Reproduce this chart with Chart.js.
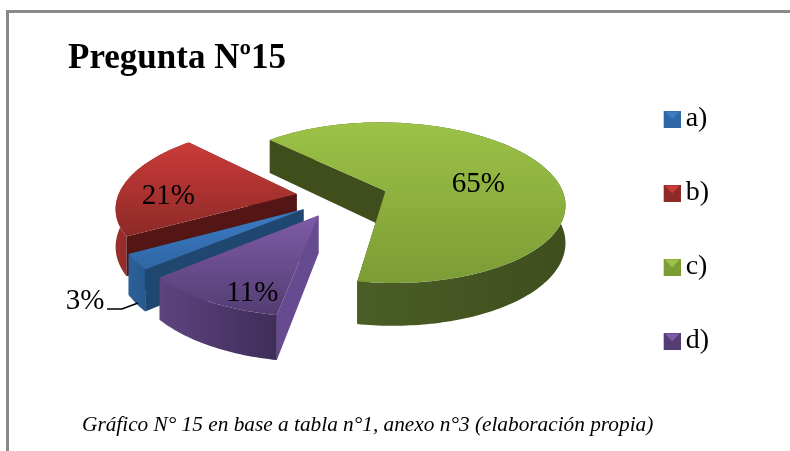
<!DOCTYPE html>
<html><head><meta charset="utf-8">
<style>html,body{margin:0;padding:0;background:#fff}canvas{display:block;filter:blur(0.4px)}</style>
<script src="https://cdn.jsdelivr.net/npm/chart.js@4"></script>
</head><body><canvas id="c" width="790" height="451"></canvas>
<script>
const categories = ['a)', 'b)', 'c)', 'd)'];
const values = [3, 21, 65, 11];
const titleText = 'Pregunta Nº15';
const captionText = 'Gráfico N° 15 en base a tabla n°1, anexo n°3 (elaboración propia)';
const baseColors = ['#3A78BE', '#C0392F', '#9BBB45', '#7650A0'];
const topLight = ['#3C7CC4', '#CB3B38', '#9CC247', '#7E5BA8'];
const topDark = ['#2F66A5', '#8C2A28', '#7C9C35', '#533D72'];
const wallStart = ['#1F4770', '#531615', '#3F4E1B', '#664B91'];
const wallEnd = ['#1F4770', '#531615', '#3F4E1B', '#5A4080'];
const outerLeft = ['#2C6299', '#9A2E2B', '#50642A', '#5E4480'];
const outerRight = ['#27588C', '#7A2422', '#3F4E1D', '#3F2D58'];
const labelFrac = [1.25, 0.62, 0.55, 0.62];
const labelNudgeX = [-4, -21, 3, -2];
const labelNudgeY = [25, 9, 6, 27];

const O = {x: 342, y: 197}, RX = 179, KY = 0.449, P = 0.147, DEPTH = 37;
const serif = '"Liberation Serif", "Times New Roman", serif';
function proj(u, v, z) {
  const w = 1 - P * v;
  return {x: O.x + RX * u / w, y: O.y + (RX * KY * v + DEPTH * z) / w};
}
function poly(ctx, pts, fill) {
  ctx.beginPath();
  pts.forEach((p, i) => i ? ctx.lineTo(p.x, p.y) : ctx.moveTo(p.x, p.y));
  ctx.closePath();
  ctx.fillStyle = fill;
  ctx.fill();
}
function sliceGeom(el) {
  const s = el.startAngle, e = el.endAngle, mid = (s + e) / 2;
  const ex = el.options.offset / el.outerRadius;
  const ox = ex * Math.cos(mid), oy = ex * Math.sin(mid);
  const ring = [];
  const n = Math.max(4, Math.ceil((e - s) / 0.02));
  for (let i = 0; i <= n; i++) {
    const t = s + (e - s) * i / n;
    ring.push([ox + Math.cos(t), oy + Math.sin(t)]);
  }
  return {ox, oy, ring, mid};
}
function swatch(light, dark) {
  const c = document.createElement('canvas');
  c.width = 35; c.height = 17;
  const g = c.getContext('2d');
  g.fillStyle = dark; g.fillRect(18, 0, 17, 17);
  g.fillStyle = light;
  g.beginPath(); g.moveTo(19, 1); g.lineTo(34, 1); g.lineTo(26.5, 9); g.closePath(); g.fill();
  return c;
}
const pie3d = {
  id: 'pie3d',
  beforeDraw(chart) {
    const ctx = chart.ctx;
    ctx.save();
    ctx.fillStyle = '#8a8a8a';
    ctx.fillRect(6, 10, 784, 3);
    ctx.fillRect(6, 10, 3, 441);
    ctx.restore();
  },
  beforeDatasetDraw() { return false; },
  afterDatasetsDraw(chart) {
    const ctx = chart.ctx;
    const els = chart.getDatasetMeta(0).data;
    ctx.save();
    [2, 1, 0, 3].forEach(i => {
      const g = sliceGeom(els[i]);
      const top = g.ring.map(p => proj(p[0], p[1], 0));
      const bottom = g.ring.map(p => proj(p[0], p[1], 1)).reverse();
      const a0 = proj(g.ox, g.oy, 0), a1 = proj(g.ox, g.oy, 1);
      const xs = top.map(p => p.x), ys = top.map(p => p.y).concat(a0.y);
      poly(ctx, [a0, top[top.length - 1], bottom[0], a1], wallEnd[i]);
      const gx = ctx.createLinearGradient(Math.min(...xs), 0, Math.max(...xs), 0);
      gx.addColorStop(0, outerLeft[i]); gx.addColorStop(1, outerRight[i]);
      poly(ctx, top.concat(bottom), gx);
      poly(ctx, [a0, top[0], bottom[bottom.length - 1], a1], wallStart[i]);
      const gy = ctx.createLinearGradient(0, Math.min(...ys), 0, Math.max(...ys));
      gy.addColorStop(0, topLight[i]); gy.addColorStop(1, topDark[i]);
      poly(ctx, [a0].concat(top), gy);
    });
    const total = values.reduce((a, b) => a + b, 0);
    ctx.fillStyle = '#000';
    ctx.font = '29px ' + serif;
    ctx.textAlign = 'center';
    ctx.textBaseline = 'middle';
    values.forEach((v, i) => {
      const g = sliceGeom(els[i]);
      const f = labelFrac[i];
      const p = proj(g.ox + f * Math.cos(g.mid), g.oy + f * Math.sin(g.mid), 0);
      ctx.fillText(Math.round(v / total * 100) + '%', p.x + labelNudgeX[i], p.y + labelNudgeY[i]);
    });
    ctx.strokeStyle = '#000';
    ctx.lineWidth = 1.5;
    ctx.beginPath();
    ctx.moveTo(107, 309); ctx.lineTo(122, 309); ctx.lineTo(138, 303);
    ctx.stroke();
    ctx.font = 'italic 21.3px ' + serif;
    ctx.textAlign = 'left';
    ctx.fillText(captionText, 82, 425);
    ctx.restore();
  }
};
new Chart(document.getElementById('c'), {
  type: 'pie',
  data: {
    labels: categories,
    datasets: [{data: values, backgroundColor: baseColors, offset: 46, borderWidth: 0}]
  },
  options: {
    responsive: false,
    animation: false,
    rotation: 229.5,
    radius: 179,
    layout: {padding: {left: 68, right: 71, top: 38, bottom: 29}},
    plugins: {
      tooltip: {enabled: false},
      title: {display: true, text: titleText, align: 'start', color: '#000',
        font: {family: serif, size: 35, weight: 'bold'}, padding: {top: 0, bottom: 0}},
      legend: {
        position: 'right',
        labels: {
          color: '#000',
          font: {family: serif, size: 28},
          usePointStyle: true,
          pointStyleWidth: 17,
          boxHeight: 17,
          padding: 46,
          generateLabels(chart) {
            return categories.map((t, i) => ({
              text: t, fontColor: '#000', index: i, hidden: false, lineWidth: 0,
              pointStyle: swatch(topLight[i], topDark[i])
            }));
          }
        }
      }
    }
  },
  plugins: [pie3d]
});
</script></body></html>
